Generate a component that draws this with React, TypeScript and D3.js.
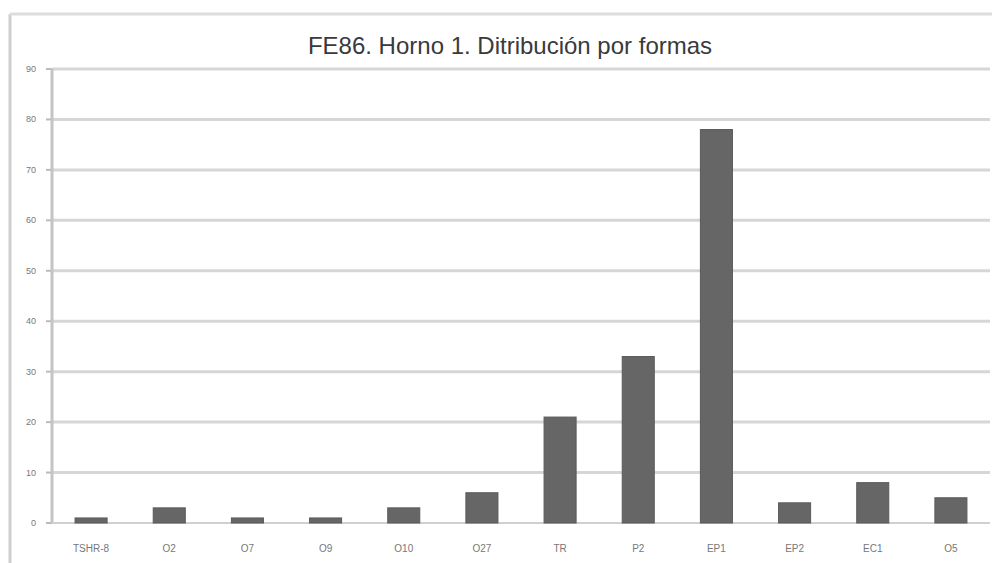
import { useMemo } from "react";
import * as d3 from "d3";

const WIDTH = 992;
const HEIGHT = 563;
const MARGIN = { top: 69, right: 2, bottom: 40, left: 52 };

const categories = ["TSHR-8", "O2", "O7", "O9", "O10", "O27", "TR", "P2", "EP1", "EP2", "EC1", "O5"];
const counts = [1, 3, 1, 1, 3, 6, 21, 33, 78, 4, 8, 5];
const yTicks = [0, 10, 20, 30, 40, 50, 60, 70, 80, 90];

const TITLE = "FE86. Horno 1. Ditribución por formas";

export default function App() {
  const boundsWidth = WIDTH - MARGIN.left - MARGIN.right;
  const boundsHeight = HEIGHT - MARGIN.top - MARGIN.bottom;

  const xScale = useMemo(
    () => d3.scaleBand().domain(categories).range([0, boundsWidth]).paddingInner(0.59).paddingOuter(0.295),
    [boundsWidth]
  );
  const yScale = useMemo(
    () => d3.scaleLinear().domain([0, 90]).range([boundsHeight, 0]),
    [boundsHeight]
  );

  const grid = yTicks.map((t) => (
    <g key={t}>
      {t > 0 && (
        <line x1={0} x2={boundsWidth} y1={yScale(t)} y2={yScale(t)} stroke="#d6d6d6" strokeWidth={3} />
      )}
      <line x1={-6} x2={0} y1={yScale(t)} y2={yScale(t)} stroke="#bbbbbb" strokeWidth={2} />
      <text
        x={-16}
        y={yScale(t)}
        textAnchor="end"
        dominantBaseline="central"
        fontSize={9}
        fill="#777"
      >
        {t}
      </text>
    </g>
  ));

  const bars = categories.map((c, i) => {
    const x = xScale(c);
    if (x === undefined) return null;
    const v = counts[i];
    return (
      <g key={c}>
        <rect
          x={x}
          y={yScale(v)}
          width={xScale.bandwidth()}
          height={boundsHeight - yScale(v)}
          fill="#666666"
          stroke="#5a5a5a"
          strokeWidth={1}
        />
        <text
          x={x + xScale.bandwidth() / 2}
          y={boundsHeight + 25}
          textAnchor="middle"
          dominantBaseline="central"
          fontSize={10}
          fill="#777"
        >
          {c}
        </text>
      </g>
    );
  });

  return (
    <div style={{ position: "fixed", left: 0, top: 0 }}>
      <svg width={WIDTH} height={HEIGHT} style={{ display: "block", fontFamily: "Arial, 'Liberation Sans', sans-serif" }}>
        <rect width={WIDTH} height={HEIGHT} fill="#ffffff" />
        <line x1={10} x2={10} y1={14} y2={HEIGHT} stroke="#cfcfcf" strokeWidth={3} />
        <line x1={10} x2={WIDTH} y1={14} y2={14} stroke="#dddddd" strokeWidth={3} />
        <text x={510} y={45} textAnchor="middle" dominantBaseline="central" fontSize={24} fill="#3a3a3a">
          {TITLE}
        </text>
        <g transform={`translate(${MARGIN.left},${MARGIN.top})`}>
          {grid}
          <line x1={0} x2={0} y1={0} y2={boundsHeight} stroke="#c4c4c4" strokeWidth={3} />
          <line x1={0} x2={boundsWidth} y1={boundsHeight} y2={boundsHeight} stroke="#d0d0d0" strokeWidth={2} />
          {bars}
        </g>
      </svg>
    </div>
  );
}
